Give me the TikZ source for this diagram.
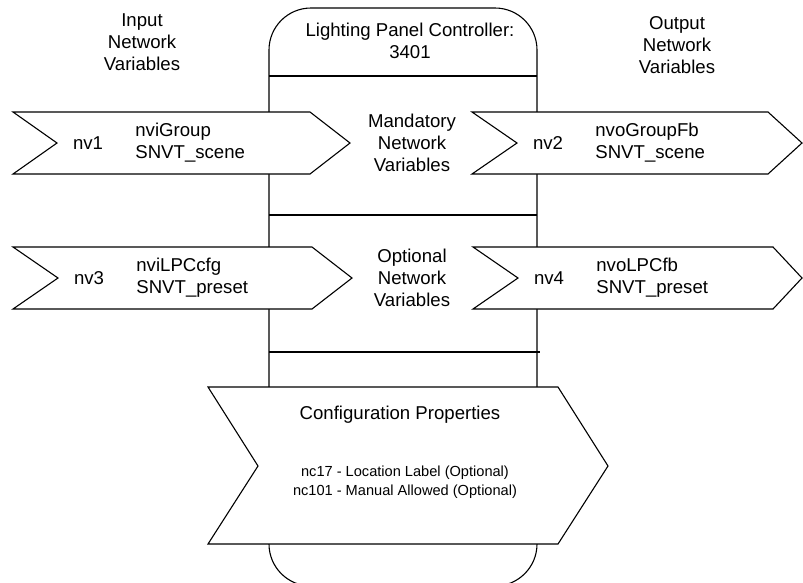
\documentclass[tikz,border=0pt]{standalone}
\usepackage{fontspec}
\setmainfont{Liberation Sans}
\usetikzlibrary{positioning}
\tikzset{
  body/.style  ={draw, line width=1.1pt, rounded corners=42pt},
  sep/.style   ={draw, line width=1.1pt},
  chev/.style  ={draw, fill=white, line width=1.1pt, line join=miter},
  lbl/.style   ={align=center, inner sep=0pt, font=\fontsize{18.6}{21.8}\selectfont},
  nvlbl/.style ={align=left, anchor=west, inner sep=0pt, font=\fontsize{18.6}{21.8}\selectfont},
  small/.style ={align=center, inner sep=0pt, font=\fontsize{14.6}{19}\selectfont},
}

\begin{document}
\begin{tikzpicture}[x=1pt, y=-1pt]
  \clip (0,0) rectangle (803,582);

  % controller body and its separators
  \draw[body] (269,8) -- (537,8) -- (537,586) -- (269,586) -- cycle;
  \draw[sep] (269,76) -- (537,76);
  \draw[sep] (269,215) -- (537,215);
  \draw[sep] (269,352) -- (540,352);

  % network variable chevrons
  \draw[chev] (13,112) -- (310,112) -- (350,143) -- (310,174) -- (13,174) -- (57,143) -- cycle;
  \draw[chev] (472,112) -- (768,112) -- (802,143) -- (768,174) -- (472,174) -- (517,143) -- cycle;
  \draw[chev] (13,247) -- (312,247) -- (352,278) -- (312,309) -- (13,309) -- (58,278) -- cycle;
  \draw[chev] (473,247) -- (773,247) -- (802,278) -- (773,309) -- (473,309) -- (518,278) -- cycle;
  \draw[chev] (208,387) -- (558,387) -- (608,466) -- (558,544) -- (208,544) -- (258,466) -- cycle;

  \node[lbl] (inp)   at (142,42)  {Input\\Network\\Variables};
  \node[lbl] (outp)  at (677,45)  {Output\\Network\\Variables};
  \node[lbl] (title) at (410,41)  {Lighting Panel Controller:\\3401};
  \node[lbl] (mand)  at (412,143) {Mandatory\\Network\\Variables};
  \node[lbl] (opt)   at (412,278) {Optional\\Network\\Variables};

  \node[lbl] (nv1) at (88,143)  {nv1};
  \node[nvlbl, right=32pt of nv1] (nv1txt) {nviGroup\\SNVT\_scene};
  \node[lbl] (nv2) at (548,143) {nv2};
  \node[nvlbl, right=32pt of nv2] (nv2txt) {nvoGroupFb\\SNVT\_scene};
  \node[lbl] (nv3) at (89,278)  {nv3};
  \node[nvlbl, right=32pt of nv3] (nv3txt) {nviLPCcfg\\SNVT\_preset};
  \node[lbl] (nv4) at (549,278) {nv4};
  \node[nvlbl, right=32pt of nv4] (nv4txt) {nvoLPCfb\\SNVT\_preset};

  \node[lbl] (cfg) at (400,415) {Configuration Properties};
  \node[small] (nclist) at (405,482)
    {nc17 - Location Label (Optional)\\nc101 - Manual Allowed (Optional)};
\end{tikzpicture}
\end{document}
